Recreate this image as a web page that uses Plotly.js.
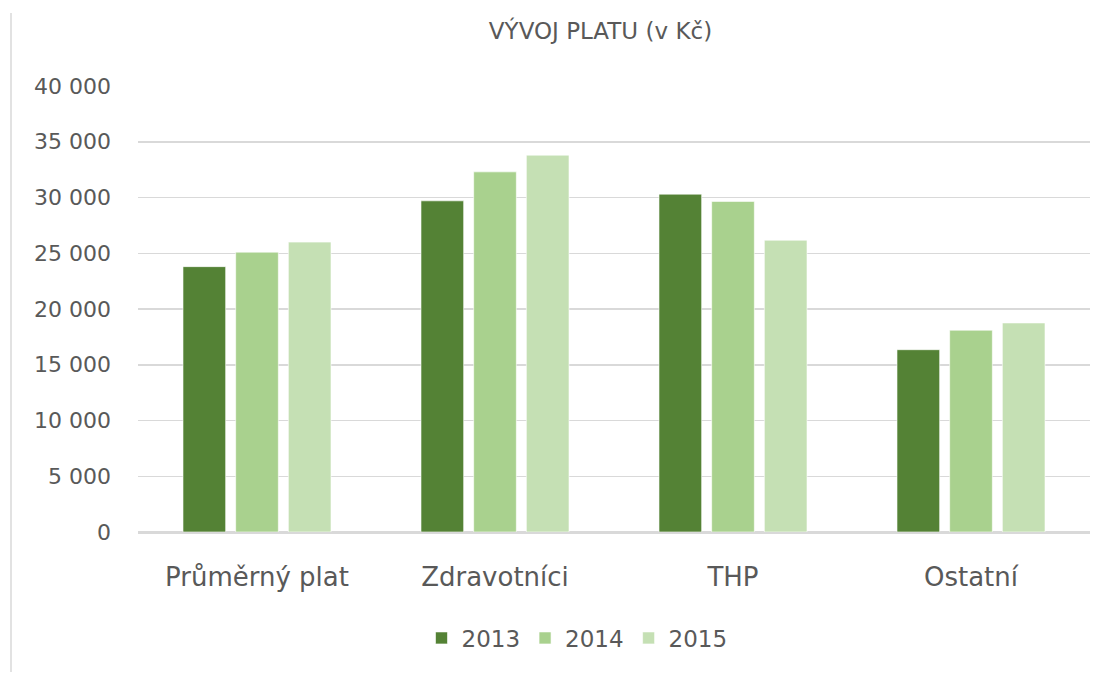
<!DOCTYPE html>
<html>
<head>
<meta charset="utf-8">
<script src="https://cdn.plot.ly/plotly-3.0.1.min.js"></script>
<style>html,body{margin:0;padding:0;background:#fff;}#chart{width:1112px;height:677px;}</style>
</head>
<body>
<div id="chart"></div>
<script>
const categories = ["Průměrný plat", "Zdravotníci", "THP", "Ostatní"];
const years = ["2013", "2014", "2015"];
const values2013 = [23800, 29700, 30300, 16350];
const values2014 = [25100, 32300, 29650, 18100];
const values2015 = [26000, 33800, 26170, 18750];
const yTickVals = [0, 5000, 10000, 15000, 20000, 25000, 30000, 35000, 40000];
const yTickText = ["0", "5 000", "10 000", "15 000", "20 000", "25 000", "30 000", "35 000", "40 000"];
const colors = ["#548235", "#A9D18E", "#C5E0B4"];
const series = [values2013, values2014, values2015];

const font = "DejaVu Sans, sans-serif";
const textColor = "#595959";

const traces = series.map((vals, i) => ({
  type: "bar",
  name: years[i],
  x: categories,
  y: vals,
  marker: {color: colors[i], line: {color: "rgba(255,255,255,0.6)", width: 1}},
  hoverinfo: "skip"
}));

const layout = {
  width: 1112,
  height: 677,
  paper_bgcolor: "#ffffff",
  plot_bgcolor: "#ffffff",
  margin: {l: 138, r: 22, t: 86, b: 145},
  barmode: "group",
  bargap: 0.336,
  bargroupgap: 0.19,
  font: {family: font, color: textColor},
  title: {
    text: "VÝVOJ PLATU (v Kč)",
    font: {family: font, size: 23, color: textColor},
    x: 0.540, xanchor: "center",
    y: 1 - 31/677, yanchor: "middle"
  },
  xaxis: {
    type: "category",
    tickfont: {family: font, size: 26, color: textColor},
    showline: true, linecolor: "#d9d9d9", linewidth: 1.5,
    ticks: "", showgrid: false,
    ticklabelstandoff: 21
  },
  yaxis: {
    range: [0, 40000],
    tickvals: yTickVals,
    ticktext: yTickText,
    tickfont: {family: font, size: 22, color: textColor},
    showgrid: true, gridcolor: "#d9d9d9", gridwidth: 1.5,
    zeroline: true, zerolinecolor: "#d9d9d9", zerolinewidth: 1.5,
    showline: false, ticks: "",
    ticklabelstandoff: 26
  },
  legend: {
    orientation: "h",
    x: (577 - 138) / 952, xanchor: "center",
    y: (532 - 638) / 446, yanchor: "middle",
    font: {family: font, size: 23, color: textColor},
    itemwidth: 30,
    traceorder: "normal"
  },
  shapes: [{
    type: "line", xref: "paper", yref: "paper",
    x0: (11 - 138) / 952, x1: (11 - 138) / 952,
    y0: (532 - 13) / 446, y1: (532 - 672) / 446,
    line: {color: "#d9d9d9", width: 1.5}
  }],
  showlegend: true
};

Plotly.newPlot("chart", traces, layout, {displayModeBar: false, staticPlot: true});
</script>
</body>
</html>
